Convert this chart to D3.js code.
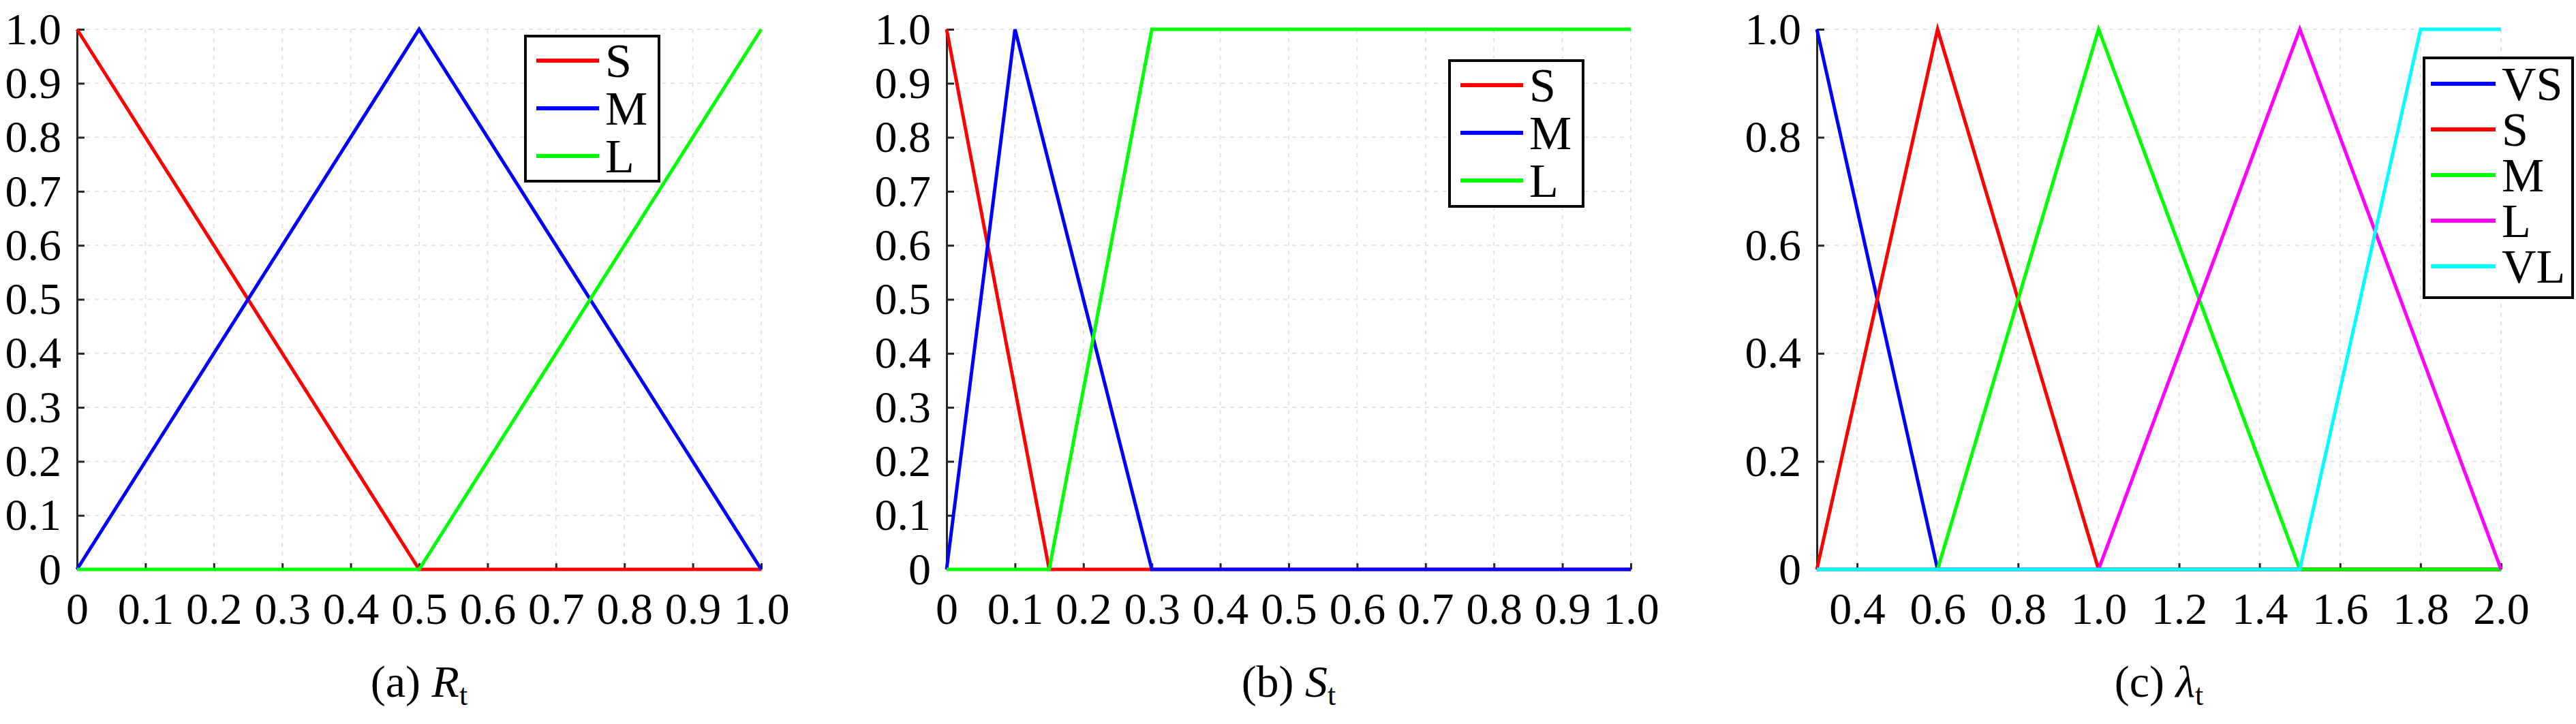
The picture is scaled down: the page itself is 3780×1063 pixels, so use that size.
<!DOCTYPE html>
<html>
<head>
<meta charset="utf-8">
<script src="https://cdn.jsdelivr.net/npm/d3@7"></script>
<style>
  body { margin: 0; background: #fff; }
  text { font-family: "Liberation Serif", "DejaVu Serif", serif; fill: #000; }
</style>
</head>
<body>
<script>
// ---- data ----
const rtNames = ["S", "M", "L"];
const rtS = [[0, 1], [0.5, 0], [1.0, 0]];
const rtM = [[0, 0], [0.5, 1], [1.0, 0]];
const rtL = [[0, 0], [0.5, 0], [1.0, 1]];
const rtTicksX = [0, 0.1, 0.2, 0.3, 0.4, 0.5, 0.6, 0.7, 0.8, 0.9, 1.0];
const rtTicksY = [0, 0.1, 0.2, 0.3, 0.4, 0.5, 0.6, 0.7, 0.8, 0.9, 1.0];

const stNames = ["S", "M", "L"];
const stS = [[0, 1], [0.15, 0], [1.0, 0]];
const stM = [[0, 0], [0.1, 1], [0.3, 0], [1.0, 0]];
const stL = [[0, 0], [0.15, 0], [0.3, 1], [1.0, 1]];
const stTicksX = [0, 0.1, 0.2, 0.3, 0.4, 0.5, 0.6, 0.7, 0.8, 0.9, 1.0];
const stTicksY = [0, 0.1, 0.2, 0.3, 0.4, 0.5, 0.6, 0.7, 0.8, 0.9, 1.0];

const ltNames = ["VS", "S", "M", "L", "VL"];
const ltVS = [[0.3, 1], [0.6, 0], [2.0, 0]];
const ltS = [[0.3, 0], [0.6, 1], [1.0, 0], [2.0, 0]];
const ltM = [[0.3, 0], [0.6, 0], [1.0, 1], [1.5, 0], [2.0, 0]];
const ltL = [[0.3, 0], [1.0, 0], [1.5, 1], [2.0, 0]];
const ltVL = [[0.3, 0], [1.5, 0], [1.8, 1], [2.0, 1]];
const ltTicksX = [0.4, 0.6, 0.8, 1.0, 1.2, 1.4, 1.6, 1.8, 2.0];
const ltTicksY = [0, 0.2, 0.4, 0.6, 0.8, 1.0];

const colors3 = ["#ff0000", "#0000ff", "#00ff00"];
const colors5 = ["#0000ff", "#ff0000", "#00ff00", "#ff00ff", "#00ffff"];

// ---- layout ----
const W = 3780, H = 1063;
const plotTop = 43, plotBottom = 836;
const fontSize = 66;

const svg = d3.select("body").append("svg")
    .attr("width", W)
    .attr("height", H);

const fmt = d => d === 0 ? "0" : d.toFixed(1);

function drawPanel(p) {
    let x = d3.scaleLinear().domain(p.xDomain).range([p.left, p.right]);
    let y = d3.scaleLinear().domain([0, 1]).range([plotBottom, plotTop]);
    let g = svg.append("g");

    // dashed grid
    g.append("g").selectAll("line").data(p.ticksX).join("line")
        .attr("x1", d => x(d)).attr("x2", d => x(d))
        .attr("y1", plotTop).attr("y2", plotBottom)
        .attr("stroke", "#e3e3e3").attr("stroke-width", 2)
        .attr("stroke-dasharray", "6,7");
    g.append("g").selectAll("line").data(p.ticksY).join("line")
        .attr("x1", p.left).attr("x2", p.right)
        .attr("y1", d => y(d)).attr("y2", d => y(d))
        .attr("stroke", "#e3e3e3").attr("stroke-width", 2)
        .attr("stroke-dasharray", "6,7");

    // axes
    let ax = g.append("g")
        .attr("transform", `translate(0, ${plotBottom})`)
        .call(d3.axisBottom(x).tickValues(p.ticksX).tickFormat(fmt)
            .tickSizeInner(-9).tickSizeOuter(0).tickPadding(33));
    let ay = g.append("g")
        .attr("transform", `translate(${p.left}, 0)`)
        .call(d3.axisLeft(y).tickValues(p.ticksY).tickFormat(fmt)
            .tickSizeInner(-11).tickSizeOuter(0).tickPadding(23));
    [ax, ay].forEach(a => {
        a.select(".domain").attr("stroke", "#262626").attr("stroke-width", 3);
        a.selectAll(".tick line").attr("stroke", "#262626").attr("stroke-width", 3);
        a.selectAll(".tick text")
            .style("font-family", "'Liberation Serif', serif")
            .style("font-size", fontSize + "px")
            .attr("fill", "#000");
    });

    // curves
    let line = d3.line().x(d => x(d[0])).y(d => y(d[1]));
    g.append("g").selectAll("path").data(p.series).join("path")
        .attr("d", d => line(d))
        .attr("fill", "none")
        .attr("stroke", (d, i) => p.colors[i])
        .attr("stroke-width", 5)
        .attr("stroke-linejoin", "miter");

    // legend
    let lg = g.append("g").attr("transform", `translate(${p.legend.x}, ${p.legend.y})`);
    lg.append("rect")
        .attr("width", p.legend.w)
        .attr("height", p.legend.h)
        .attr("fill", "#fff")
        .attr("stroke", "#000")
        .attr("stroke-width", 4);
    let rows = lg.selectAll("g.row").data(p.names).join("g")
        .attr("class", "row")
        .attr("transform", (d, i) => `translate(0, ${p.legend.first + i * p.legend.step})`);
    rows.append("line")
        .attr("x1", p.legend.inset)
        .attr("x2", p.legend.inset + p.legend.len)
        .attr("stroke", (d, i) => p.colors[i])
        .attr("stroke-width", 6);
    rows.append("text")
        .attr("x", p.legend.inset + p.legend.len + 9)
        .attr("y", 24)
        .style("font-size", "70px")
        .text(d => d);

    // caption
    let cap = g.append("text")
        .attr("x", (p.left + p.right) / 2)
        .attr("y", 1023)
        .attr("text-anchor", "middle")
        .style("font-size", fontSize + "px");
    cap.append("tspan").text(p.caption[0] + " ");
    cap.append("tspan").style("font-style", "italic").text(p.caption[1]);
    cap.append("tspan").attr("dy", 12).style("font-size", "44px").text("t");
}

drawPanel({
    left: 113, right: 1117, xDomain: [0, 1],
    ticksX: rtTicksX, ticksY: rtTicksY,
    series: [rtS, rtM, rtL], names: rtNames, colors: colors3,
    legend: { x: 771, y: 53, w: 196, h: 213, first: 36, step: 70, inset: 16, len: 92 },
    caption: ["(a)", "R"]
});

drawPanel({
    left: 1389, right: 2393, xDomain: [0, 1],
    ticksX: stTicksX, ticksY: stTicksY,
    series: [stS, stM, stL], names: stNames, colors: colors3,
    legend: { x: 2127, y: 89, w: 196, h: 214, first: 36, step: 70, inset: 16, len: 92 },
    caption: ["(b)", "S"]
});

drawPanel({
    left: 2666, right: 3670, xDomain: [0.3, 2.0],
    ticksX: ltTicksX, ticksY: ltTicksY,
    series: [ltVS, ltS, ltM, ltL, ltVL], names: ltNames, colors: colors5,
    legend: { x: 3557, y: 85, w: 218, h: 352, first: 38, step: 67, inset: 10, len: 95 },
    caption: ["(c)", "λ"]
});
</script>
</body>
</html>
